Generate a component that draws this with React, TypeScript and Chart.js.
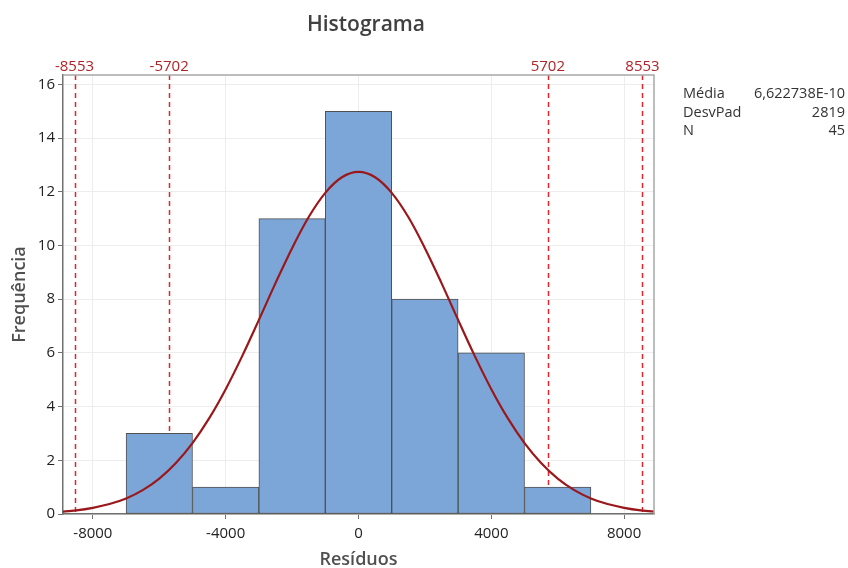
import React, { useEffect, useRef } from "react";
import { Chart, registerables } from "chart.js";
Chart.register(...registerables);

const binCenters = [-6000, -4000, -2000, 0, 2000, 4000, 6000];
const binCounts = [3, 1, 11, 15, 8, 6, 1];
const curveX = [
  -9000, -8500, -8000, -7500, -7000, -6500, -6000, -5500, -5000, -4500, -4000, -3500, -3000,
  -2500, -2000, -1500, -1000, -500, 0, 500, 1000, 1500, 2000, 2500, 3000, 3500, 4000, 4500,
  5000, 5500, 6000, 6500, 7000, 7500, 8000, 8500, 9000,
];
const curveY = [
  0.08, 0.135, 0.23, 0.37, 0.58, 0.89, 1.32, 1.9, 2.64, 3.56, 4.65, 5.89, 7.23, 8.6, 9.9, 11.06,
  11.96, 12.54, 12.74, 12.54, 11.96, 11.06, 9.9, 8.6, 7.23, 5.89, 4.65, 3.56, 2.64, 1.9, 1.32,
  0.89, 0.58, 0.37, 0.23, 0.135, 0.08,
];
const refLines = [-8553, -5702, 5702, 8553];
const refLabels = ["-8553", "-5702", "5702", "8553"];
const xTickValues = [-8000, -4000, 0, 4000, 8000];
const yTickValues = [0, 2, 4, 6, 8, 10, 12, 14, 16];
const statLabels = ["Média", "DesvPad", "N"];
const statValues = ["6,622738E-10", "2819", "45"];
const titleText = "Histograma";
const xTitle = "Resíduos";
const yTitle = "Frequência";

const FONT = "'Open Sans', 'Noto Sans', sans-serif";

const overlay = {
  id: "overlay",
  beforeDatasetsDraw(chart: any) {
    const { ctx, chartArea } = chart;
    const xs = chart.scales.x;
    ctx.save();
    ctx.strokeStyle = "#E0262C";
    ctx.lineWidth = 1.5;
    ctx.setLineDash([5, 4]);
    refLines.forEach((v) => {
      const px = Math.round(xs.getPixelForValue(v)) + 0.5;
      ctx.beginPath();
      ctx.moveTo(px, chartArea.top);
      ctx.lineTo(px, chartArea.bottom);
      ctx.stroke();
    });
    ctx.restore();
  },
  afterDraw(chart: any) {
    const { ctx, chartArea } = chart;
    const xs = chart.scales.x;
    ctx.save();
    ctx.strokeStyle = "#A8A8A8";
    ctx.lineWidth = 1.5;
    ctx.beginPath();
    ctx.moveTo(chartArea.left, chartArea.top);
    ctx.lineTo(chartArea.right, chartArea.top);
    ctx.lineTo(chartArea.right, chartArea.bottom);
    ctx.stroke();
    ctx.fillStyle = "#B02328";
    ctx.font = `15px ${FONT}`;
    ctx.textAlign = "center";
    ctx.textBaseline = "middle";
    refLines.forEach((v, i) => {
      ctx.fillText(refLabels[i], xs.getPixelForValue(v), 67);
    });
    ctx.fillStyle = "#404040";
    ctx.font = `600 21px ${FONT}`;
    ctx.fillText(titleText, 366, 25);
    ctx.fillStyle = "#333333";
    ctx.font = `14.5px ${FONT}`;
    statLabels.forEach((l, i) => {
      const y = 94 + i * 18.5;
      ctx.textAlign = "left";
      ctx.fillText(l, 683, y);
      ctx.textAlign = "right";
      ctx.fillText(statValues[i], 845, y);
    });
    ctx.restore();
  },
};

export default function App() {
  const ref = useRef<HTMLCanvasElement>(null);
  useEffect(() => {
    if (!ref.current) return;
    const chart = new Chart(ref.current, {
      type: "bar",
      data: {
        datasets: [
          {
            type: "line",
            data: curveX.map((x, i) => ({ x, y: curveY[i] })),
            borderColor: "#9A181C",
            borderWidth: 2.2,
            pointRadius: 0,
            tension: 0.35,
            fill: false,
            order: 0,
          } as any,
          {
            type: "bar",
            data: binCenters.map((x, i) => ({ x, y: binCounts[i] })),
            backgroundColor: "#7DA6D8",
            borderColor: "#505050",
            borderWidth: 1,
            borderSkipped: false,
            barPercentage: 1,
            categoryPercentage: 1,
            order: 1,
          } as any,
        ],
      },
      options: {
        animation: false,
        responsive: false,
        maintainAspectRatio: false,
        layout: { padding: { left: 0, right: 194, top: 75, bottom: 0 } },
        plugins: { legend: { display: false }, tooltip: { enabled: false }, title: { display: false } },
        scales: {
          x: {
            type: "linear",
            offset: false,
            min: -8900,
            max: 8900,
            afterBuildTicks: (s: any) => {
              s.ticks = xTickValues.map((v) => ({ value: v }));
            },
            afterFit: (s: any) => {
              s.height = 54;
            },
            grid: { offset: false, color: "#EDEDED", tickColor: "#707070", tickLength: 5, lineWidth: 1 },
            border: { color: "#707070", width: 1.5 },
            ticks: {
              color: "#222",
              font: { family: FONT, size: 15 },
              padding: 6,
              maxRotation: 0,
              callback: (v: any) => String(v),
            },
            title: {
              display: true,
              text: xTitle,
              color: "#505050",
              font: { family: FONT, size: 18, weight: "600" },
              padding: { top: 0, bottom: -3 },
            },
          },
          y: {
            type: "linear",
            min: 0,
            max: 16.35,
            afterBuildTicks: (s: any) => {
              s.ticks = yTickValues.map((v) => ({ value: v }));
            },
            afterFit: (s: any) => {
              s.width = 63;
            },
            grid: { color: "#EDEDED", tickColor: "#707070", tickLength: 5 },
            border: { color: "#707070", width: 1.5 },
            ticks: {
              color: "#222",
              font: { family: FONT, size: 15 },
              padding: 3,
              callback: (v: any) => String(v),
            },
            title: {
              display: true,
              text: yTitle,
              color: "#505050",
              font: { family: FONT, size: 18, weight: "600" },
              padding: { top: 9, bottom: 0 },
            },
          },
        },
      },
      plugins: [overlay],
    } as any);
    return () => chart.destroy();
  }, []);
  return (
    <div style={{ position: "absolute", left: 0, top: 0, width: 848, height: 568, background: "#fff" }}>
      <canvas ref={ref} width={848} height={568} />
    </div>
  );
}
